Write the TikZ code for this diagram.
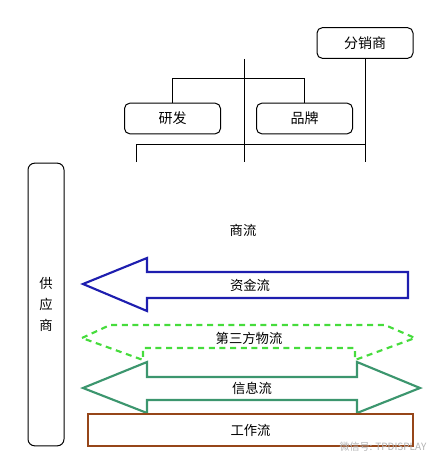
\documentclass[tikz,border=0pt]{standalone}
\usepackage{fontspec}
\setmainfont{Noto Sans CJK SC}
\usetikzlibrary{positioning}
\definecolor{moneyblue}{RGB}{30,30,175}
\definecolor{logigreen}{RGB}{70,220,60}
\definecolor{infogreen}{RGB}{60,150,110}
\definecolor{workbrown}{RGB}{150,70,25}

\begin{document}
\begin{tikzpicture}[
x=0.75pt, y=-0.75pt,
line width=0.75pt,
party/.style={draw, rounded corners=4pt, minimum width=72pt, minimum height=23pt, font=\fontsize{10.5}{12}\selectfont},
flowtext/.style={font=\fontsize{10}{11}\selectfont}
]
\useasboundingbox (0,0) rectangle (448,467);

% Nodes
\node[party] (dist) at (365,43) {分销商};
\node[party] (rd) at (172.5,118.5) {研发};
\node[party] (brand) at (304.5,118.5) {品牌};
\node[draw, rounded corners=5pt, minimum width=27pt, minimum height=212pt,
      align=center, font=\fontsize{10}{15.75}\selectfont] (supp) at (46,304.5) {供\\应\\商};

% Lines
\coordinate (hubTop) at (244,59);
\coordinate (hubBot) at (244,162);
\coordinate (barL) at (136,144);
\coordinate (legL) at (136,162);
\draw (hubTop) -- (hubBot);
\draw (rd.north) -- ++(0,-24) -| (brand.north);
\draw (legL) -- (barL) -- (barL -| dist.south);
\draw (dist.south) -- (dist.south |- legL);

% Flows
\node[flowtext] (trade) at (243,230) {商流};

\draw[moneyblue, line width=1.6pt, line join=miter]
  (83,284) -- (147,258) -- (147,272) -- (408,272) -- (408,298) -- (147,298) -- (147,311) -- cycle;
\node[flowtext] (money) at (250,285) {资金流};

\draw[logigreen, line width=1.6pt, dash pattern=on 4.5pt off 3.5pt]
  (82,338) -- (110,325) -- (385,325) -- (415,338) -- (355,360) -- (355,348)
  -- (143,348) -- (143,360) -- cycle;
\node[flowtext] (logi) at (249,338) {第三方物流};

\draw[infogreen, line width=1.6pt, line join=miter]
  (83,388) -- (147,362) -- (147,377) -- (357,377) -- (357,362) -- (420,388)
  -- (357,413) -- (357,400) -- (147,400) -- (147,413) -- cycle;
\node[flowtext] (info) at (252,388) {信息流};

\node[draw=workbrown, line width=1.6pt, minimum width=243.75pt, minimum height=24pt,
      flowtext] (work) at (250.5,430) {工作流};

\node[gray!60, font=\fontsize{7.5}{9}\selectfont] (mark) at (383,447) {微信号: TPDISPLAY};
\end{tikzpicture}
\end{document}
